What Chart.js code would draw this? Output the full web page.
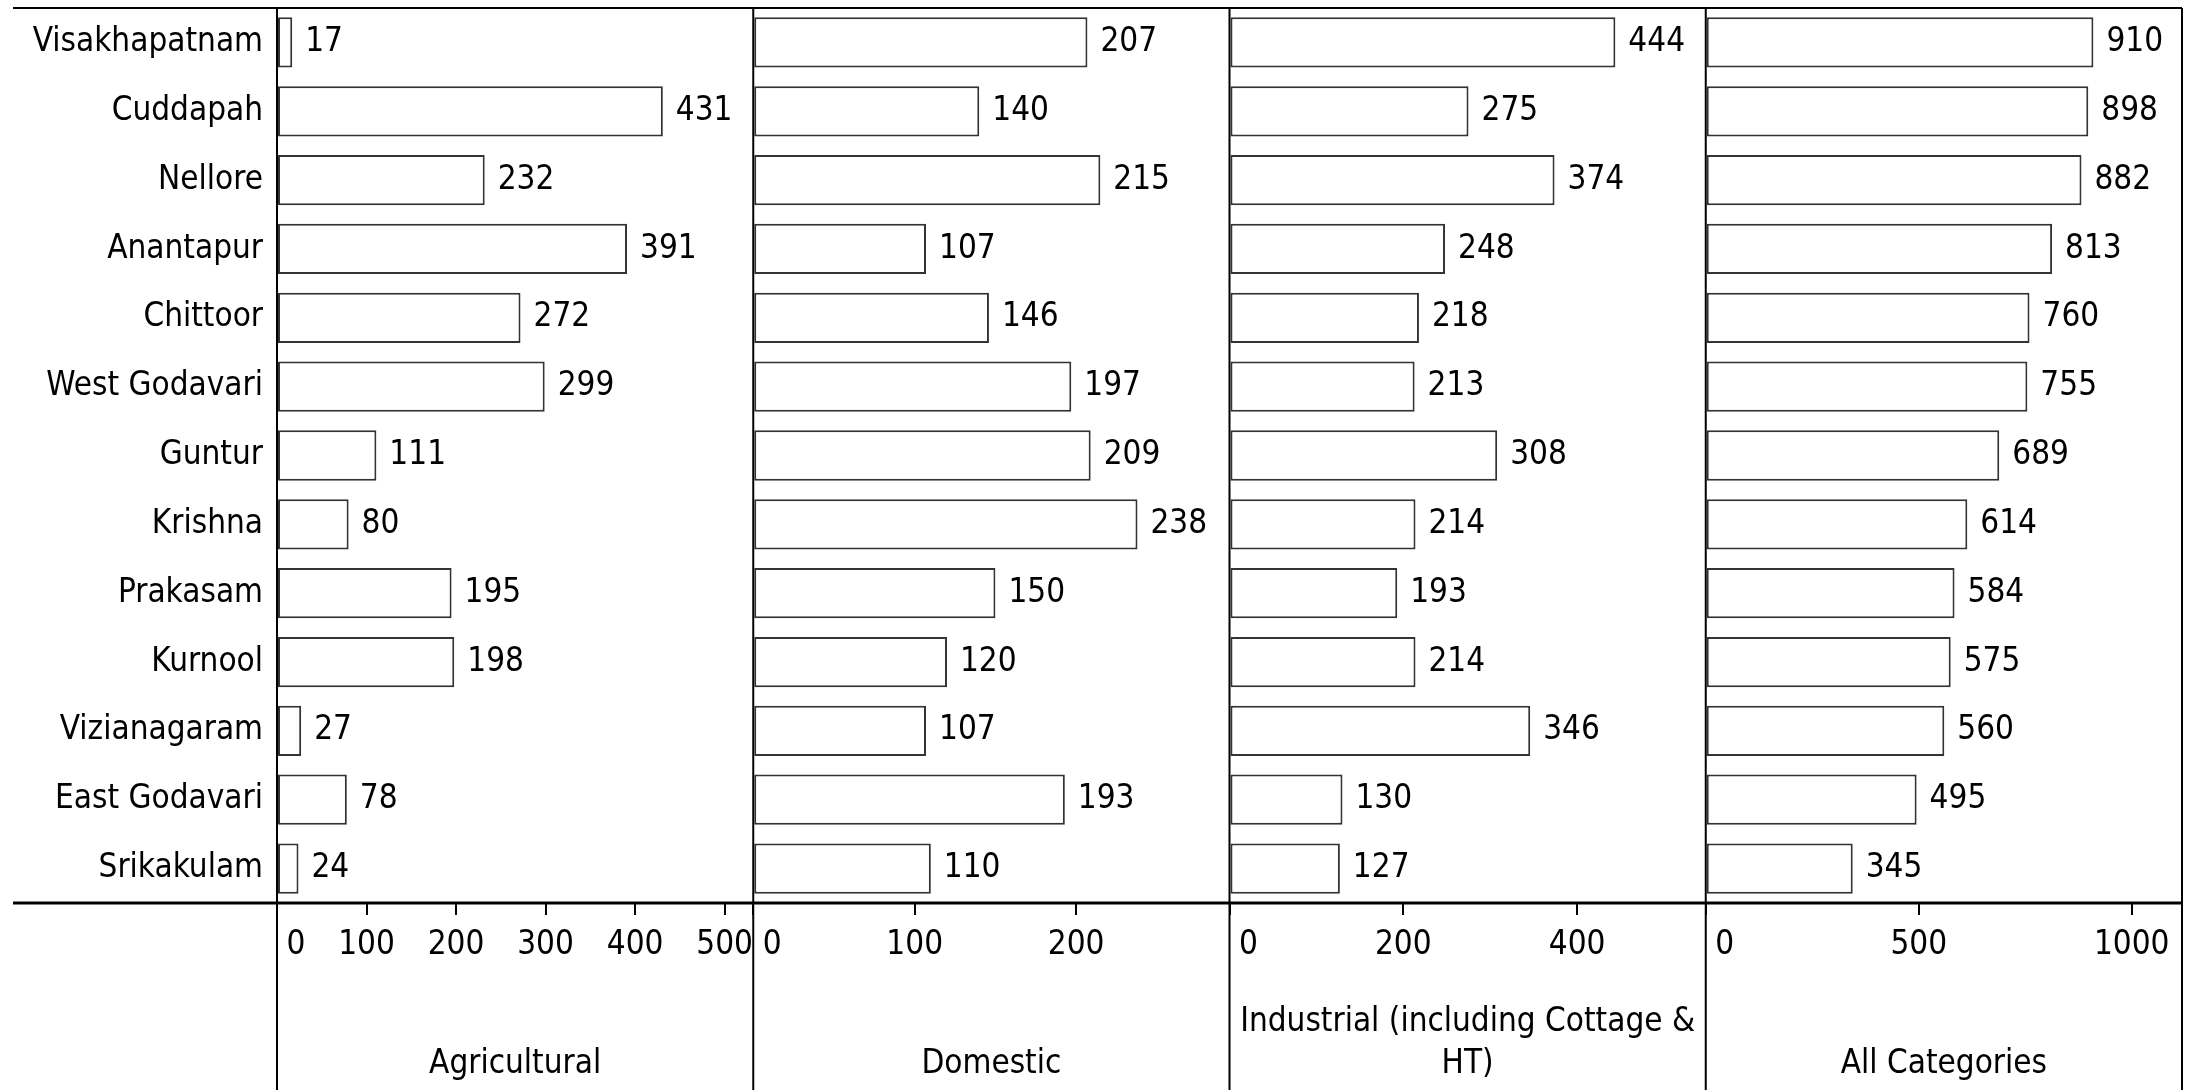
<!DOCTYPE html>
<html>
<head>
<meta charset="utf-8">
<title>Districts by consumer category</title>
<script src="https://cdn.jsdelivr.net/npm/chart.js@4"></script>
<style>
  body { margin: 0; background: #fff; }
  #chart { display: block; }
</style>
</head>
<body>
<canvas id="chart" width="2195" height="1090"></canvas>
<script>
const districts = ["Visakhapatnam", "Cuddapah", "Nellore", "Anantapur", "Chittoor", "West Godavari", "Guntur",
  "Krishna", "Prakasam", "Kurnool", "Vizianagaram", "East Godavari", "Srikakulam"];
const agricultural = [17, 431, 232, 391, 272, 299, 111, 80, 195, 198, 27, 78, 24];
const domestic = [207, 140, 215, 107, 146, 197, 209, 238, 150, 120, 107, 193, 110];
const industrial = [444, 275, 374, 248, 218, 213, 308, 214, 193, 214, 346, 130, 127];
const allCategories = [910, 898, 882, 813, 760, 755, 689, 614, 584, 575, 560, 495, 345];

const panelTitles = ["Agricultural", "Domestic", ["Industrial (including Cottage &", "HT)"], "All Categories"];
const panelMax = [532, 295, 548, 1118];
const panelTicks = [
  [0, 100, 200, 300, 400, 500],
  [0, 100, 200],
  [0, 200, 400],
  [0, 500, 1000]
];

const FONT = "'Liberation Sans Narrow', 'DejaVu Sans Condensed', sans-serif";
const FONT_SIZE = 33;
const font = { family: FONT, size: FONT_SIZE, lineHeight: 1.27 };

const series = [agricultural, domestic, industrial, allCategories];

// one x axis per panel, stacked side by side along the bottom
const scales = {
  y: {
    type: "category",
    grid: { display: false, drawTicks: false },
    border: { display: false },
    ticks: { padding: 14, color: "#000", font },
    afterFit: s => {
      s.width = 277;
      s.paddingTop = 0;
      s.paddingBottom = 0;
    }
  }
};
series.forEach((_, i) => {
  scales["x" + i] = {
    type: "linear",
    position: "bottom",
    stack: "panels",
    stackWeight: 1,
    min: 0,
    max: panelMax[i],
    grid: { drawOnChartArea: false, drawTicks: true, tickLength: 12, color: "#000", lineWidth: 2 },
    border: { display: false },
    afterBuildTicks: s => { s.ticks = panelTicks[i].map(value => ({ value })); },
    ticks: {
      autoSkip: false,
      maxRotation: 0,
      padding: 9,
      color: "#000",
      font,
      callback: v => v === 0 ? "    0" : v
    },
    title: { display: true, text: panelTitles[i], color: "#000", font, padding: { top: 0, bottom: 5 } },
    afterFit: s => {
      s.height = 187;
      s.paddingLeft = 0;
      s.paddingRight = 0;
    }
  };
});

const valueLabels = {
  id: "valueLabels",
  afterDatasetsDraw(chart) {
    const ctx = chart.ctx;
    ctx.save();
    ctx.font = FONT_SIZE + "px " + FONT;
    ctx.fillStyle = "#000";
    ctx.textAlign = "left";
    ctx.textBaseline = "middle";
    chart.data.datasets.forEach((ds, i) => {
      chart.getDatasetMeta(i).data.forEach((bar, j) => {
        ctx.fillText(ds.data[j], bar.x + 13, bar.y);
      });
    });
    ctx.restore();
  }
};

const frameLines = {
  id: "frameLines",
  afterDraw(chart) {
    const { ctx, chartArea } = chart;
    const panels = series.map((_, i) => chart.scales["x" + i]);
    const right = panels[panels.length - 1].right;
    const line = (x1, y1, x2, y2) => {
      ctx.beginPath();
      ctx.moveTo(x1, y1);
      ctx.lineTo(x2, y2);
      ctx.stroke();
    };
    ctx.save();
    ctx.strokeStyle = "#000";
    ctx.lineWidth = 2;
    line(13, chartArea.top, right, chartArea.top);
    panels.forEach(s => line(s.left, chartArea.top, s.left, chart.height));
    line(right, chartArea.top, right, chart.height);
    ctx.lineWidth = 3;
    line(13, chartArea.bottom, right, chartArea.bottom);
    ctx.restore();
  }
};

new Chart(document.getElementById("chart"), {
  type: "bar",
  data: {
    labels: districts,
    datasets: series.map((data, i) => ({
      data,
      xAxisID: "x" + i,
      yAxisID: "y",
      grouped: false,
      backgroundColor: "#fff",
      borderColor: "#333",
      borderWidth: 2,
      borderSkipped: false,
      categoryPercentage: 1,
      barPercentage: 0.73
    }))
  },
  options: {
    indexAxis: "y",
    responsive: false,
    devicePixelRatio: 1,
    animation: false,
    layout: { padding: { top: 8, right: 13, bottom: 0, left: 0 } },
    plugins: { legend: { display: false }, tooltip: { enabled: false } },
    scales
  },
  plugins: [valueLabels, frameLines]
});
</script>
</body>
</html>
